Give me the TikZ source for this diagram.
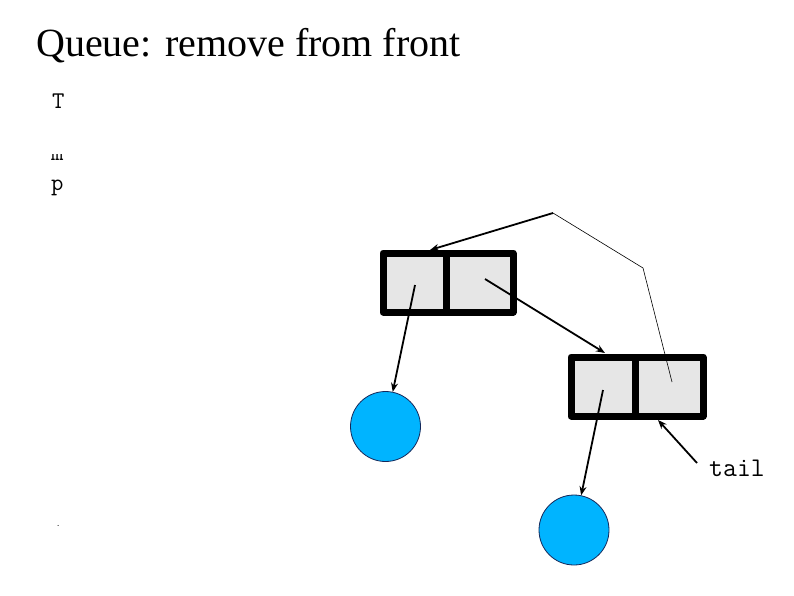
\documentclass[tikz,border=0pt]{standalone}
\usepackage{fontspec}
\setmainfont{Liberation Serif}
\usetikzlibrary{arrows.meta}
\definecolor{cellgray}{RGB}{230,230,230}
\definecolor{ballblue}{RGB}{0,180,255}
\definecolor{balledge}{RGB}{20,40,90}
\begin{document}
\begin{tikzpicture}[x=1pt,y=-1pt,
  cell/.style={draw=black,line width=7pt,line join=round,fill=cellgray,inner sep=0pt,minimum height=59pt},
  ball/.style={circle,draw=balledge,line width=0.8pt,fill=ballblue,minimum size=70pt,inner sep=0pt},
  ptr/.style={line width=1.8pt,-{Stealth[length=9pt,width=7pt]}},
  thin/.style={line width=0.6pt},
  mono/.style={font=\ttfamily\fontsize{24}{28}\selectfont,inner sep=0pt}]
\useasboundingbox (0,0) rectangle (794,595);
\node[anchor=base west,inner sep=0pt,font=\fontsize{40}{46}\selectfont] (title) at (36,56) {Queue: remove from front};
\node[mono,anchor=base west] (lT) at (52,108) {T};
\begin{scope}
\clip (40,154) rectangle (90,163);
\node[mono,anchor=base west] (lm) at (51,160) {m};
\end{scope}
\node[mono,anchor=base west] (lp) at (51,190) {p};
\node[mono,font=\ttfamily\fontsize{8}{10}\selectfont,anchor=base west] (dot) at (56,526) {.};
% node 1
\node[cell,minimum width=63pt] (n1a) at (414.5,282.5) {};
\node[cell,minimum width=67pt] (n1b) at (479.5,282.5) {};
% node 2
\node[cell,minimum width=64pt] (n2a) at (603,386.5) {};
\node[cell,minimum width=68pt] (n2b) at (669,386.5) {};
% balls
\node[ball] (c1) at (385.5,426.5) {};
\node[ball] (c2) at (574,530) {};
% pointer coordinates
\coordinate (p1) at (415,285);
\coordinate (p2) at (485,279);
\coordinate (t2) at (605,353);
\coordinate (p3) at (603,390);
\coordinate (h1) at (553,213);
\coordinate (h2) at (643,268);
\coordinate (h3) at (672,382);
\coordinate (t1) at (430,250);
\coordinate (tl) at (697,463);
\coordinate (tt) at (658,420);
\draw[ptr] (p1) -- (c1);
\draw[ptr] (p2) -- (t2);
\draw[ptr] (p3) -- (c2);
\draw[ptr] (h1) -- (t1);
\draw[thin] (h1) -- (h2) -- (h3);
\draw[ptr] (tl) -- (tt);
\node[font=\ttfamily\fontsize{27}{31}\selectfont,anchor=base west,inner sep=0pt] (tail) at (709,476) {tail};
\end{tikzpicture}
\end{document}
